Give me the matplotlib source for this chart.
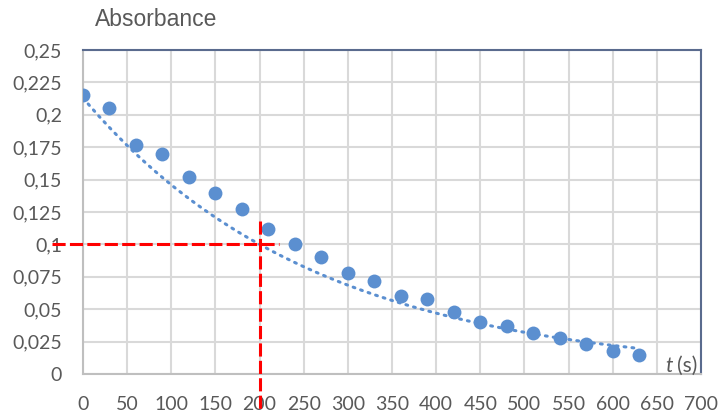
import numpy as np
import matplotlib
matplotlib.use("Agg")
import matplotlib.pyplot as plt
from matplotlib.ticker import FixedLocator

t = [0, 30, 60, 90, 120, 150, 180, 210, 240, 270, 300, 330, 360, 390,
     420, 450, 480, 510, 540, 570, 600, 630]
absorbance = [0.215, 0.205, 0.177, 0.170, 0.152, 0.140, 0.127, 0.112, 0.100,
              0.090, 0.078, 0.072, 0.060, 0.058, 0.048, 0.040, 0.037, 0.032,
              0.028, 0.023, 0.018, 0.015]
# exponential trendline parameters: A = a0 * exp(-k t)
trend_a0 = 0.213
trend_k = 0.00378
trend_t_end = 630
x_ticks = [0, 50, 100, 150, 200, 250, 300, 350, 400, 450, 500, 550, 600, 650, 700]
y_ticks = [0, 0.025, 0.05, 0.075, 0.1, 0.125, 0.15, 0.175, 0.2, 0.225, 0.25]
y_labels = ["0", "0,025", "0,05", "0,075", "0,1", "0,125", "0,15", "0,175",
            "0,2", "0,225", "0,25"]
t_half = 200
a_half = 0.1

plt.rcParams['font.family'] = ['Lato', 'DejaVu Sans']

fig = plt.figure(figsize=(7.18, 4.12), dpi=100)
ax = fig.add_axes([83/718, 38/412, (701-83)/718, (374-50)/412])

blue = '#5B8FD0'
grid_c = '#D9D9D9'
text_c = '#595959'

xs = np.linspace(0, trend_t_end, 300)
ax.plot(xs, trend_a0 * np.exp(-trend_k * xs), color=blue, lw=2.2,
        linestyle=(0, (0.6, 2.0)), dash_capstyle='round', zorder=3)

ax.plot(t, absorbance, 'o', color=blue, markersize=10, markeredgewidth=0, zorder=4)

ax.set_xlim(0, 700)
ax.set_ylim(0, 0.25)
ax.xaxis.set_major_locator(FixedLocator(x_ticks))
ax.yaxis.set_major_locator(FixedLocator(y_ticks))
ax.set_yticklabels(y_labels)
ax.set_xticklabels([str(v) for v in x_ticks])
ax.tick_params(axis='both', length=0, labelsize=14, colors=text_c)
ax.tick_params(axis='x', pad=16)
ax.tick_params(axis='y', pad=15)
ax.grid(True, color=grid_c, lw=1.5, zorder=0)
ax.set_axisbelow(True)

for s in ['left', 'bottom']:
    ax.spines[s].set_color('#BFBFBF')
    ax.spines[s].set_linewidth(1.5)
for s in ['top', 'right']:
    ax.spines[s].set_color('#5A6B8E')
    ax.spines[s].set_linewidth(1.5)

# red dashed guide lines
red = '#FF0000'
ax.plot([-35, 222], [a_half, a_half], color=red, lw=2.2, linestyle=(0, (4.3, 1.4)),
        clip_on=False, zorder=5)
ax.plot([t_half, t_half], [0.118, -0.03], color=red, lw=2.2, linestyle=(0, (4.3, 1.4)),
        clip_on=False, zorder=5)

fig.text(95/718, 1 - 20/412, "Absorbance", fontsize=16.5, color=text_c,
         family=['Liberation Sans', 'DejaVu Sans'], va='center', ha='left')
ax.text(668, 0.0015, "t", fontsize=15, color=text_c, ha='right', va='baseline',
        style='italic')
ax.text(673, 0.0015, "(s)", fontsize=15, color=text_c, ha='left', va='baseline')

fig.savefig("out.png", dpi=100)
